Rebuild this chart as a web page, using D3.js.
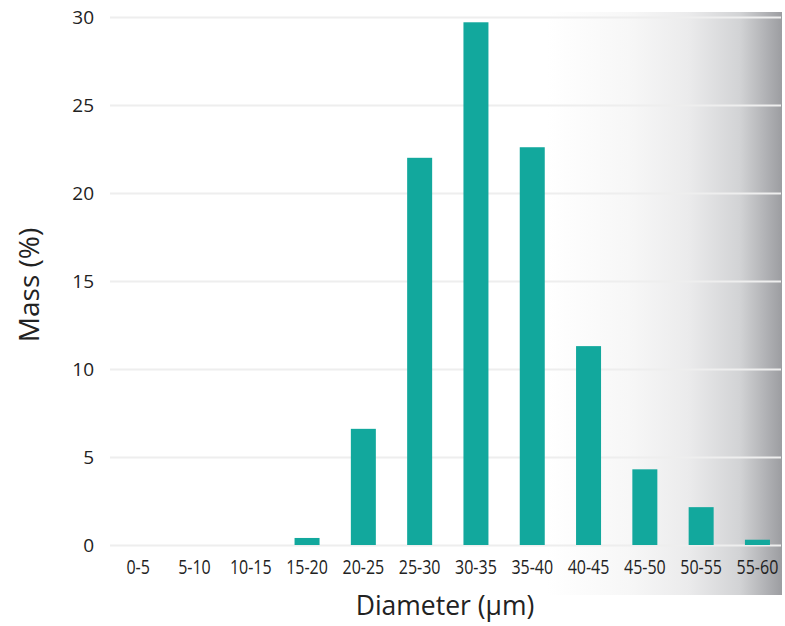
<!DOCTYPE html>
<html>
<head>
<meta charset="utf-8">
<script src="https://cdn.jsdelivr.net/npm/d3@7"></script>
<style>
  body { margin: 0; background: #fff; }
  text { font-family: "Open Sans", "Noto Sans", sans-serif; fill: #222; }
</style>
</head>
<body>
<div id="chart"></div>
<script>
// Diameter bins and mass share
const categories = ["0-5", "5-10", "10-15", "15-20", "20-25", "25-30", "30-35", "35-40", "40-45", "45-50", "50-55", "55-60"];
const massValues = [0, 0, 0, 0.4, 6.6, 22.0, 29.7, 22.6, 11.3, 4.3, 2.15, 0.3];
const yTicks = [0, 5, 10, 15, 20, 25, 30];

const W = 785, H = 626;
const svg = d3.select("#chart").append("svg")
  .attr("width", W)
  .attr("height", H);

// Scales
const x = d3.scaleBand()
  .domain(categories)
  .range([110, 785.6])
  .paddingInner(0.556)
  .paddingOuter(0.278);

const y = d3.scaleLinear()
  .domain([0, 30])
  .range([545, 17]);

// Grey fade on the right side
const defs = svg.append("defs");
const grad = defs.append("linearGradient")
  .attr("id", "fade")
  .attr("x1", "0%").attr("x2", "100%")
  .attr("y1", "0%").attr("y2", "0%");
grad.append("stop").attr("offset", "0%").attr("stop-color", "#ffffff");
grad.append("stop").attr("offset", "35%").attr("stop-color", "#f7f7f7");
grad.append("stop").attr("offset", "60%").attr("stop-color", "#ebebec");
grad.append("stop").attr("offset", "82%").attr("stop-color", "#d2d3d5");
grad.append("stop").attr("offset", "100%").attr("stop-color", "#9c9da1");

svg.append("rect")
  .attr("x", 547)
  .attr("y", 12)
  .attr("width", 235)
  .attr("height", 583)
  .attr("fill", "url(#fade)");

// Gridlines
svg.append("g")
  .attr("class", "grid")
  .attr("transform", "translate(110,0)")
  .call(d3.axisLeft(y).tickValues(yTicks).tickSize(-671).tickFormat(""))
  .call(g => g.select(".domain").remove())
  .call(g => g.selectAll("line").attr("stroke", "#eeeeee").attr("stroke-width", 2));

// Bars
svg.selectAll(".bar")
  .data(categories)
  .enter()
  .append("rect")
    .attr("class", "bar")
    .attr("x", d => x(d))
    .attr("width", x.bandwidth())
    .attr("y", (d, i) => y(massValues[i]))
    .attr("height", (d, i) => y(0) - y(massValues[i]))
    .attr("fill", "#12a89d");

// Y axis labels
svg.append("g")
  .attr("transform", "translate(94,0)")
  .call(d3.axisLeft(y).tickValues(yTicks).tickSize(0).tickPadding(0))
  .call(g => g.select(".domain").remove())
  .call(g => g.selectAll("text")
    .style("font-size", "19px")
    .attr("fill", "#222"));

// X axis labels (squeezed a bit, the original font is condensed)
svg.append("g")
  .attr("transform", "translate(0,545)")
  .call(d3.axisBottom(x).tickSize(0).tickPadding(15))
  .call(g => g.select(".domain").remove())
  .call(g => g.selectAll("text")
    .style("font-size", "20px")
    .attr("transform", "scale(0.8,1)")
    .attr("fill", "#222"));

// Axis titles
svg.append("text")
  .attr("x", 445)
  .attr("y", 615)
  .attr("text-anchor", "middle")
  .style("font-size", "26.5px")
  .text("Diameter (µm)");

svg.append("text")
  .attr("transform", "translate(39,285) rotate(-90)")
  .attr("text-anchor", "middle")
  .style("font-size", "28px")
  .text("Mass (%)");
</script>
</body>
</html>
